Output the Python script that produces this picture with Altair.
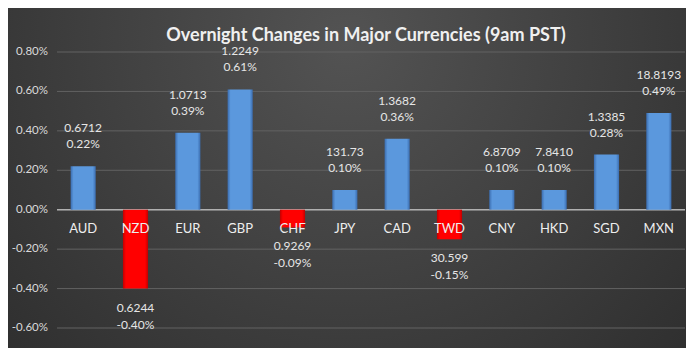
import altair as alt
import pandas as pd

currencies = ["AUD", "NZD", "EUR", "GBP", "CHF", "JPY", "CAD", "TWD", "CNY", "HKD", "SGD", "MXN"]
pct_change = [0.22, -0.40, 0.39, 0.61, -0.09, 0.10, 0.36, -0.15, 0.10, 0.10, 0.28, 0.49]
rates = ["0.6712", "0.6244", "1.0713", "1.2249", "0.9269", "131.73", "1.3682", "30.599", "6.8709", "7.8410", "1.3385", "18.8193"]
tick_values = [-0.6, -0.4, -0.2, 0.0, 0.2, 0.4, 0.6, 0.8]
tick_labels = ["-0.60%", "-0.40%", "-0.20%", "0.00%", "0.20%", "0.40%", "0.60%", "0.80%"]
title_text = "Overnight Changes in Major Currencies (9am PST)"

df = pd.DataFrame({
    "cur": currencies,
    "pct": pct_change,
    "rate": rates,
    "pct_label": [f"{v:.2f}%" for v in pct_change],
})
ticks_df = pd.DataFrame({"t": tick_values, "lab": tick_labels})

W, H = 628, 276
LEFT = 49
FONT = "Lato"

xenc = alt.X("cur:N", sort=currencies, axis=None,
             scale=alt.Scale(paddingInner=0.52, paddingOuter=0.26))
yscale = alt.Scale(domain=[-0.6, 0.8], nice=False, zero=False)


def Y(field):
    return alt.Y(field, scale=yscale, axis=None)


base = alt.Chart(df)

bg = alt.Chart(pd.DataFrame({"a": [0]})).mark_rect(
    color={"gradient": "radial", "x1": 0.5, "y1": 0.3, "r1": 0.0,
           "x2": 0.5, "y2": 0.3, "r2": 0.85,
           "stops": [{"offset": 0, "color": "#535353"},
                     {"offset": 1, "color": "#262626"}]}
).encode(x=alt.value(-LEFT), x2=alt.value(W + 1), y=alt.value(-44), y2=alt.value(H + 20))

grid = alt.Chart(ticks_df).mark_rule(color="#626262", strokeWidth=1).encode(
    y=Y("t:Q"), x=alt.value(0), x2=alt.value(W))

ylabels = alt.Chart(ticks_df).mark_text(
    font=FONT, fontSize=11.5, color="#d9d9d9", align="right", baseline="middle"
).encode(y=Y("t:Q"), x=alt.value(-9), text="lab:N")

zero = alt.Chart(pd.DataFrame({"z": [0]})).mark_rule(color="#b0b0b0", strokeWidth=1.5).encode(
    y=Y("z:Q"), x=alt.value(0), x2=alt.value(W))

blue_grad = {"gradient": "linear", "x1": 0, "x2": 1, "y1": 0, "y2": 0,
             "stops": [{"offset": 0, "color": "#3b6db0"},
                       {"offset": 0.12, "color": "#5b98dd"},
                       {"offset": 0.88, "color": "#5b98dd"},
                       {"offset": 1, "color": "#3b6db0"}]}
red_grad = {"gradient": "linear", "x1": 0, "x2": 1, "y1": 0, "y2": 0,
            "stops": [{"offset": 0, "color": "#c00000"},
                      {"offset": 0.12, "color": "#ff0000"},
                      {"offset": 0.88, "color": "#ff0000"},
                      {"offset": 1, "color": "#c00000"}]}

pos = base.transform_filter("datum.pct >= 0")
neg = base.transform_filter("datum.pct < 0")

pos_bars = pos.mark_bar(color=blue_grad).encode(x=xenc, y=Y("pct:Q"), y2=alt.datum(0))
neg_bars = neg.mark_bar(color=red_grad).encode(x=xenc, y=Y("pct:Q"), y2=alt.datum(0))

txt = dict(font=FONT, fontSize=12, color="#e6e6e6", baseline="middle", align="center")

pos_pct = pos.mark_text(dy=-22, **txt).encode(x=xenc, y=Y("pct:Q"), text="pct_label:N")
pos_rate = pos.mark_text(dy=-38, **txt).encode(x=xenc, y=Y("pct:Q"), text="rate:N")
neg_rate = neg.mark_text(dy=19, **txt).encode(x=xenc, y=Y("pct:Q"), text="rate:N")
neg_pct = neg.mark_text(dy=36, **txt).encode(x=xenc, y=Y("pct:Q"), text="pct_label:N")

cat_labels = base.mark_text(font=FONT, fontSize=13, color="#eeeeee", baseline="middle",
                            align="center", dy=19).encode(
    x=xenc, y=alt.datum(0), text="cur:N")

title = alt.Chart(pd.DataFrame({"t": [title_text]})).mark_text(
    font=FONT, fontSize=18, fontWeight="bold", color="#f0f0f0",
    align="center", baseline="alphabetic").encode(
    x=alt.value(W / 2 - 5), y=alt.value(-11), text="t:N")

chart = alt.layer(bg, grid, ylabels, zero, pos_bars, neg_bars, pos_pct, pos_rate, neg_rate,
                  neg_pct, cat_labels, title).properties(
    width=W, height=H,
    autosize=alt.AutoSizeParams(type="none"),
    padding={"left": LEFT, "top": 44, "right": 1, "bottom": 20},
    background="#2e2e2e",
).configure_view(stroke=None)

chart.save("out.html", embed_options={"renderer": "svg", "actions": False})
